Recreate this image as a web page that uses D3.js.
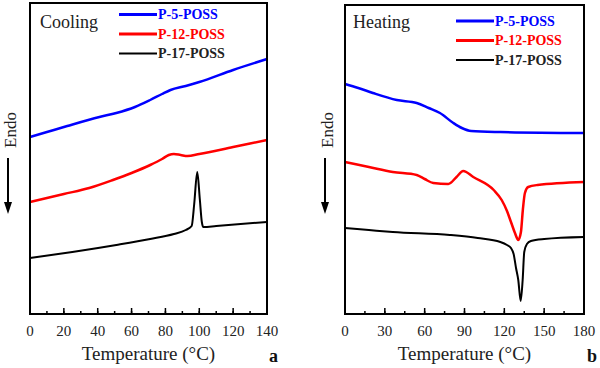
<!DOCTYPE html>
<html>
<head>
<meta charset="utf-8">
<script src="https://cdn.jsdelivr.net/npm/d3@7"></script>
<style>
  body { margin: 0; background: #fff; }
  svg { display: block; font-family: "Liberation Serif", "Times New Roman", serif; }
</style>
</head>
<body>
<svg id="chart" width="600" height="368"></svg>
<script>
// DSC traces, [temperature °C, heat flow a.u.]
const seriesNames = ["P-5-POSS", "P-12-POSS", "P-17-POSS"];
const seriesColors = ["#0000ff", "#ff0000", "#000000"];

const coolP5 = [[0,177],[10,182],[22,188],[41,197],[51,201],[62,207],[71,214],[78,220],[83,224],[92,228],[100,232],[120,244],[140,255]];
const coolP12 = [[0,112],[20,120],[35,126],[49,134],[60,141],[71,149],[78,155],[82,159],[85,160],[89,159],[93,158],[100,160],[120,167],[140,174]];
const coolP17 = [[0,56],[25,62],[51,69],[71,75],[85,80],[92,84],[95.5,88],[97,110],[98.8,142],[100.3,115],[101.5,92],[102.4,87],[110,88],[140,92]];

const heatP5 = [[0,230],[10,226],[21,221],[39,214],[54,211],[63,206],[71.5,201],[81.6,191],[88,186],[95,183],[117,182],[180,181]];
const heatP12 = [[0,152],[18,147],[36,142],[54,139],[60,135],[66.5,131],[77.8,130],[84,137],[89,143],[96.6,137],[112,124],[118,114],[122,103],[125,92],[128,81],[130.5,74],[132.5,82],[134,105],[135.5,121],[138,127],[145,129],[180,132]];
const heatP17 = [[0,86],[18,84],[36,82],[79,79],[100,76],[117,72],[122,69],[125,66],[127,60],[128.8,46],[130.5,34],[132.3,13],[133.8,34],[135,62],[137,70],[140,73],[150,75],[180,77]];

const coolTicks = [0, 20, 40, 60, 80, 100, 120, 140];
const heatTicks = [0, 30, 60, 90, 120, 150, 180];

const svg = d3.select("#chart");

function drawPanel(opt) {
    const g = svg.append("g");
    const x = d3.scaleLinear().domain(opt.xDomain).range([opt.left, opt.right]);
    const y = d3.scaleLinear().domain([0, 312]).range([314, 2]);

    // minor ticks (inward)
    const minor = d3.range(opt.xDomain[0], opt.xDomain[1] + 0.01, opt.minorStep);
    g.selectAll("line.minor").data(minor).enter().append("line")
        .attr("x1", d => x(d)).attr("x2", d => x(d))
        .attr("y1", 314).attr("y2", 311)
        .attr("stroke", "#000").attr("stroke-width", 1.5);
    g.selectAll("line.major").data(opt.ticks).enter().append("line")
        .attr("x1", d => x(d)).attr("x2", d => x(d))
        .attr("y1", 314).attr("y2", 308)
        .attr("stroke", "#000").attr("stroke-width", 1.5);

    g.selectAll("text.tick").data(opt.ticks).enter().append("text")
        .attr("x", d => x(d)).attr("y", 336)
        .attr("text-anchor", "middle").attr("font-size", 15).attr("fill", "#222")
        .text(d => d);

    const line = d3.line().x(d => x(d[0])).y(d => y(d[1])).curve(d3.curveMonotoneX);
    opt.series.forEach((s, i) => {
        g.append("path").datum(s)
            .attr("d", line)
            .attr("fill", "none")
            .attr("stroke", seriesColors[i])
            .attr("stroke-width", i === 2 ? 2 : 2.5)
            .attr("stroke-linejoin", "round");
    });

    // frame
    g.append("rect")
        .attr("x", opt.left).attr("y", opt.top)
        .attr("width", opt.right - opt.left).attr("height", 314 - opt.top)
        .attr("fill", "none").attr("stroke", "#000").attr("stroke-width", 2);

    g.append("text").attr("x", opt.titleX).attr("y", 28)
        .attr("font-size", 18).attr("fill", "#222").text(opt.title);

    seriesNames.forEach((name, i) => {
        const ly = opt.legendY + i * 19.5;
        g.append("line")
            .attr("x1", opt.legendX).attr("x2", opt.legendX + 38)
            .attr("y1", ly).attr("y2", ly)
            .attr("stroke", seriesColors[i]).attr("stroke-width", i === 2 ? 2 : 3);
        g.append("text")
            .attr("x", opt.legendX + 39).attr("y", ly)
            .attr("dy", "0.35em")
            .attr("font-size", 14).attr("font-weight", "bold")
            .attr("fill", i === 2 ? "#222" : seriesColors[i])
            .text(name);
    });

    // y label with arrow
    g.append("text")
        .attr("transform", `translate(${opt.endoX + 8},130) rotate(-90)`)
        .attr("text-anchor", "middle").attr("font-size", 17).attr("fill", "#222")
        .text("Endo");
    g.append("line")
        .attr("x1", opt.endoX).attr("x2", opt.endoX)
        .attr("y1", 158).attr("y2", 205)
        .attr("stroke", "#000").attr("stroke-width", 2);
    g.append("path")
        .attr("d", `M${opt.endoX - 4},202 L${opt.endoX + 4},202 L${opt.endoX},214 Z`)
        .attr("fill", "#000");

    g.append("text")
        .attr("x", (opt.left + opt.right) / 2).attr("y", 360)
        .attr("text-anchor", "middle").attr("font-size", 19).attr("fill", "#222")
        .text("Temperature (°C)");

    g.append("text")
        .attr("x", opt.letterX).attr("y", 362)
        .attr("font-size", 18).attr("font-weight", "bold").attr("fill", "#111")
        .text(opt.letter);
}

drawPanel({
    left: 30, right: 267, top: 3,
    xDomain: [0, 140], ticks: coolTicks, minorStep: 10,
    series: [coolP5, coolP12, coolP17],
    title: "Cooling", titleX: 40,
    legendX: 119, legendY: 14.5,
    endoX: 8, letter: "a", letterX: 269
});

drawPanel({
    left: 345, right: 584, top: 5,
    xDomain: [0, 180], ticks: heatTicks, minorStep: 15,
    series: [heatP5, heatP12, heatP17],
    title: "Heating", titleX: 353,
    legendX: 456, legendY: 21,
    endoX: 325, letter: "b", letterX: 587
});
</script>
</body>
</html>
